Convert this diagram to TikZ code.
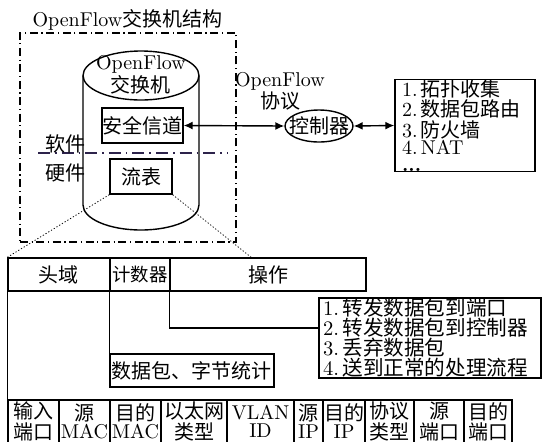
\documentclass[tikz,border=0pt]{standalone}
\usepackage{fontspec}
\newfontfamily\cjk{Noto Sans CJK SC}
\usetikzlibrary{arrows.meta,shapes.geometric,calc}
\newcommand\zhtxt[1]{{\cjk #1}}
\definecolor{divc}{RGB}{45,35,75}
\tikzset{
  ln/.style={line width=0.7pt},
  box/.style={draw, line width=0.7pt, inner sep=0pt, font=\fontsize{10}{9}\selectfont},
  cell/.style={draw, line width=0.7pt, inner sep=0pt, align=center, font=\fontsize{10}{9}\selectfont},
  lbl/.style={inner sep=0pt, align=center, font=\fontsize{10}{9}\selectfont},
  ddash/.style={line width=0.6pt, dash pattern=on 4pt off 1.8pt on 0.6pt off 1.8pt},
  divl/.style={line width=1pt, draw=divc, dash pattern=on 6pt off 2.5pt on 0.8pt off 2.5pt},
  dotl/.style={line width=0.4pt, dash pattern=on 0.6pt off 1pt},
  dbl/.style={line width=0.7pt, {Latex[length=4.5pt,width=4pt]}-{Latex[length=4.5pt,width=4pt]}},
}
\begin{document}
\begin{tikzpicture}[x=0.5pt,y=-0.5pt]
\useasboundingbox (0,0) rectangle (542,441);

% switch structure frame
\node[ddash, draw, minimum width=108pt, minimum height=104.5pt, inner sep=0pt] (swbox) at (128,137.5) {};
\node[lbl] (title) at (127.5,20) {OpenFlow\zhtxt{交换机结构}};

% cylinder
\draw[ln] (83,75.5) -- (83,205) arc[start angle=180,end angle=360,x radius=29pt,y radius=12.5pt] -- (199,75.5);
\draw[ln] (141,75.5) ellipse [x radius=29pt, y radius=12.25pt];
\node[lbl] (swname) at (141,75) {OpenFlow\\\zhtxt{交换机}};

\node[box, minimum width=40.5pt, minimum height=17.5pt] (sec) at (142.5,125.5) {\zhtxt{安全信道}};
\node[box, minimum width=31pt, minimum height=17.5pt] (flow) at (141,176.5) {\zhtxt{流表}};

\draw[divl] (38,153) -- (227,153);
\node[lbl] (soft) at (66,144) {\zhtxt{软件}};
\node[lbl] (hard) at (66,173) {\zhtxt{硬件}};

% controller
\node[draw, ellipse, ln, minimum width=34pt, minimum height=16pt, inner sep=0pt] (ctl) at (319,126)
  {\raisebox{-3.6pt}[0pt][0pt]{\makebox[0pt]{\zhtxt{控制器}}}};
\node[lbl, font=\fontsize{10}{11}\selectfont] (proto) at (280,91) {OpenFlow\\\zhtxt{协议}};

\node[box, text width=63pt, inner xsep=3.5pt, minimum height=42.5pt, align=left, font=\fontsize{10}{8.5}\selectfont] (apps) at (465,125.5)
  {1.\,\zhtxt{拓扑收集}\\2.\,\zhtxt{数据包路由}\\3.\,\zhtxt{防火墙}\\4.\,NAT\\\textbf{...}};

\draw[dbl] (sec.east) -- (ctl.west);
\draw[dbl] (ctl.east) -- (apps.west);

% flow table header
\node[cell, minimum width=51pt, minimum height=16.5pt] (h1) at (59,274.5) {\zhtxt{头域}};
\node[cell, minimum width=30pt, minimum height=16.5pt, font=\fontsize{9.2}{9}\selectfont] (h2) at (140,274.5) {\zhtxt{计数器}};
\node[cell, minimum width=98pt, minimum height=16.5pt] (h3) at (268,274.5) {\zhtxt{操作}};

\coordinate (hd) at (252,258);
\draw[dotl] (flow.south west) -- (h1.north west);
\draw[dotl] (flow.south east) -- (hd);

\node[cell, minimum width=82pt, minimum height=16.5pt] (stat) at (192,370.5) {\zhtxt{数据包、字节统计}};
\node[box, text width=107pt, inner xsep=2pt, minimum height=40pt, align=left, font=\fontsize{10.3}{10}\selectfont] (ops) at (430,338)
  {1.\,\zhtxt{转发数据包到端口}\\2.\,\zhtxt{转发数据包到控制器}\\3.\,\zhtxt{丢弃数据包}\\4.\,\zhtxt{送到正常的处理流程}};

% header fields row
\node[cell, minimum width=25.5pt, minimum height=21.5pt] (b1) at (33.5,421.5) {\zhtxt{输入}\\\zhtxt{端口}};
\node[cell, minimum width=25.5pt, minimum height=21.5pt] (b2) at (84.5,421.5) {\zhtxt{源}\\MAC};
\node[cell, minimum width=25.5pt, minimum height=21.5pt] (b3) at (135.5,421.5) {\zhtxt{目的}\\MAC};
\node[cell, minimum width=33pt, minimum height=21.5pt] (b4) at (194,421.5) {\zhtxt{以太网}\\\zhtxt{类型}};
\node[cell, minimum width=33.5pt, minimum height=21.5pt] (b5) at (260.5,421.5) {VLAN\\ID};
\node[cell, minimum width=14.5pt, minimum height=21.5pt] (b6) at (308.5,421.5) {\zhtxt{源}\\IP};
\node[cell, minimum width=21pt, minimum height=21.5pt] (b7) at (344,421.5) {\zhtxt{目的}\\IP};
\node[cell, minimum width=24.5pt, minimum height=21.5pt] (b8) at (389.5,421.5) {\zhtxt{协议}\\\zhtxt{类型}};
\node[cell, minimum width=25pt, minimum height=21.5pt] (b9) at (439,421.5) {\zhtxt{源}\\\zhtxt{端口}};
\node[cell, minimum width=24pt, minimum height=21.5pt] (b10) at (488,421.5) {\zhtxt{目的}\\\zhtxt{端口}};

% connectors
\draw[ln] (h1.south west) -- (b1.north west);
\draw[ln] (h2.south west) -- (stat.north west);
\draw[ln] (h3.south west) |- ($(ops.north west)!0.375!(ops.south west)$);
\end{tikzpicture}
\end{document}
